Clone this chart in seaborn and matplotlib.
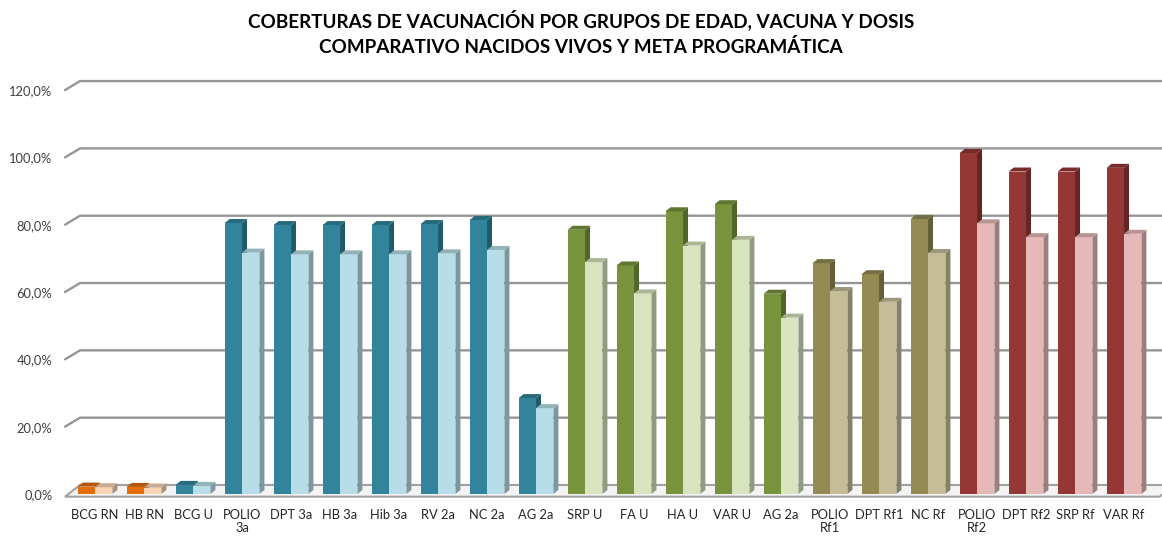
import numpy as np
import pandas as pd
import seaborn as sns
import matplotlib.pyplot as plt
from matplotlib.patches import Polygon
from matplotlib.ticker import FuncFormatter

# datos (porcentaje)
vacunas = ["BCG RN", "HB RN", "BCG U", "POLIO\n3a", "DPT 3a", "HB 3a", "Hib 3a", "RV 2a",
           "NC 2a", "AG 2a", "SRP U", "FA U", "HA U", "VAR U", "AG 2a", "POLIO\nRf1",
           "DPT Rf1", "NC Rf", "POLIO\nRf2", "DPT Rf2", "SRP Rf", "VAR Rf"]
nacidos_vivos = [2.2, 2.1, 2.7, 80.5, 79.9, 79.9, 79.9, 80.2, 81.4, 28.5, 78.5, 67.9,
                 84.0, 86.1, 59.5, 68.6, 65.3, 81.7, 101.3, 95.8, 95.8, 96.9]
meta_programatica = [2.0, 1.9, 2.4, 71.7, 71.2, 71.2, 71.2, 71.5, 72.5, 25.5, 68.9, 59.6,
                     73.8, 75.5, 52.4, 60.3, 57.1, 71.6, 80.4, 76.3, 76.3, 77.3]
grupo = ["RN"] * 2 + ["menor 1"] * 8 + ["1 año"] * 5 + ["18 meses"] * 3 + ["5 años"] * 4

colores_grupo = {
    "RN": ("#E46C0A", "#FCD5B5"),
    "menor 1": ("#31849B", "#B7DEE8"),
    "1 año": ("#77933C", "#D7E4BD"),
    "18 meses": ("#948A54", "#C4BD97"),
    "5 años": ("#953735", "#E6B9B8"),
}

n = len(vacunas)
df = pd.DataFrame({
    "pos": list(range(n)) * 2,
    "valor": nacidos_vivos + meta_programatica,
    "serie": ["Nacidos vivos"] * n + ["Meta programática"] * n,
})

sns.set_style("white")
plt.rcParams["font.family"] = ["Lato", "DejaVu Sans"]

fig = plt.figure(figsize=(11.62, 5.4), dpi=100)
ax = fig.add_axes([0.0607, 0.0852, 0.9277, 0.748])

sns.barplot(data=df, x="pos", y="valor", hue="serie",
            hue_order=["Nacidos vivos", "Meta programática"],
            palette=["#31849B", "#B7DEE8"], width=0.71, gap=0, saturation=1,
            legend=False, ax=ax)

ax.set_xlim(-0.5, n - 0.5)
ax.set_ylim(0, 120)

# pixeles por unidad de datos, para el efecto 3D
pos = ax.get_position()
px_x = pos.width * fig.get_figwidth() * fig.dpi / n
px_y = pos.height * fig.get_figheight() * fig.dpi / 120
ddx, ddy = 5 / px_x, 4 / px_y        # profundidad de barras
wdx, wdy = 15 / px_x, 9 / px_y       # profundidad de la pared

def oscurecer(c, f):
    rgb = np.array(plt.matplotlib.colors.to_rgb(c))
    return tuple(rgb * f)

for s, cont in enumerate(ax.containers):
    for i, bar in enumerate(cont.patches):
        col = colores_grupo[grupo[i]][s]
        z = 2 + s
        bar.set_facecolor(col)
        bar.set_edgecolor("none")
        bar.set_zorder(z)
        x0, w, h = bar.get_x(), bar.get_width(), bar.get_height()
        lado = [(x0 + w, 0), (x0 + w + ddx, ddy), (x0 + w + ddx, h + ddy), (x0 + w, h)]
        tapa = [(x0, h), (x0 + ddx, h + ddy), (x0 + w + ddx, h + ddy), (x0 + w, h)]
        ax.add_patch(Polygon(lado, closed=True, facecolor=oscurecer(col, 0.68),
                             edgecolor="none", zorder=z + 0.1))
        ax.add_patch(Polygon(tapa, closed=True, facecolor=oscurecer(col, 0.8),
                             edgecolor="none", zorder=z + 0.1))

# lineas de cuadricula al fondo con diagonal a la izquierda
x_izq = -0.5 - 5.5 / px_x
x_der = n - 0.5 + 11 / px_x
ticks = list(range(0, 121, 20))
for v in ticks[1:]:
    ax.plot([x_izq, x_izq + wdx, x_der + 0.3], [v, v + wdy, v + wdy],
            color="#959595", lw=1.7, zorder=0.5, clip_on=False)

# piso
piso = [(x_izq, -0.8), (x_der, -0.8), (x_der + wdx, wdy), (x_izq + wdx, wdy)]
ax.add_patch(Polygon(piso, closed=True, facecolor="#f4f4f4", edgecolor="#a0a0a0",
                     lw=1.5, zorder=1, clip_on=False))

ax.set_yticks(ticks)
ax.yaxis.set_major_formatter(FuncFormatter(lambda v, p: f"{v:.1f}%".replace(".", ",")))
ax.set_xticks(range(n))
ax.set_xticklabels(vacunas)
ax.tick_params(axis="x", length=0, pad=11, labelsize=9.3, labelcolor="#262626")
ax.tick_params(axis="y", length=0, pad=13, labelsize=9.3, labelcolor="#404040")
for lbl in ax.get_xticklabels():
    lbl.set_linespacing(1.05)
ax.set_xlabel("")
ax.set_ylabel("")
for sp in ax.spines.values():
    sp.set_visible(False)
ax.grid(False)

fig.text(0.5, 1 - 20 / 540, "COBERTURAS DE VACUNACIÓN POR GRUPOS DE EDAD, VACUNA Y DOSIS",
         ha="center", va="center", fontsize=13.6, fontweight="bold", color="black")
fig.text(0.5, 1 - 47 / 540, "COMPARATIVO NACIDOS VIVOS Y META PROGRAMÁTICA",
         ha="center", va="center", fontsize=13.6, fontweight="bold", color="black")

fig.savefig("out.png", dpi=100)
